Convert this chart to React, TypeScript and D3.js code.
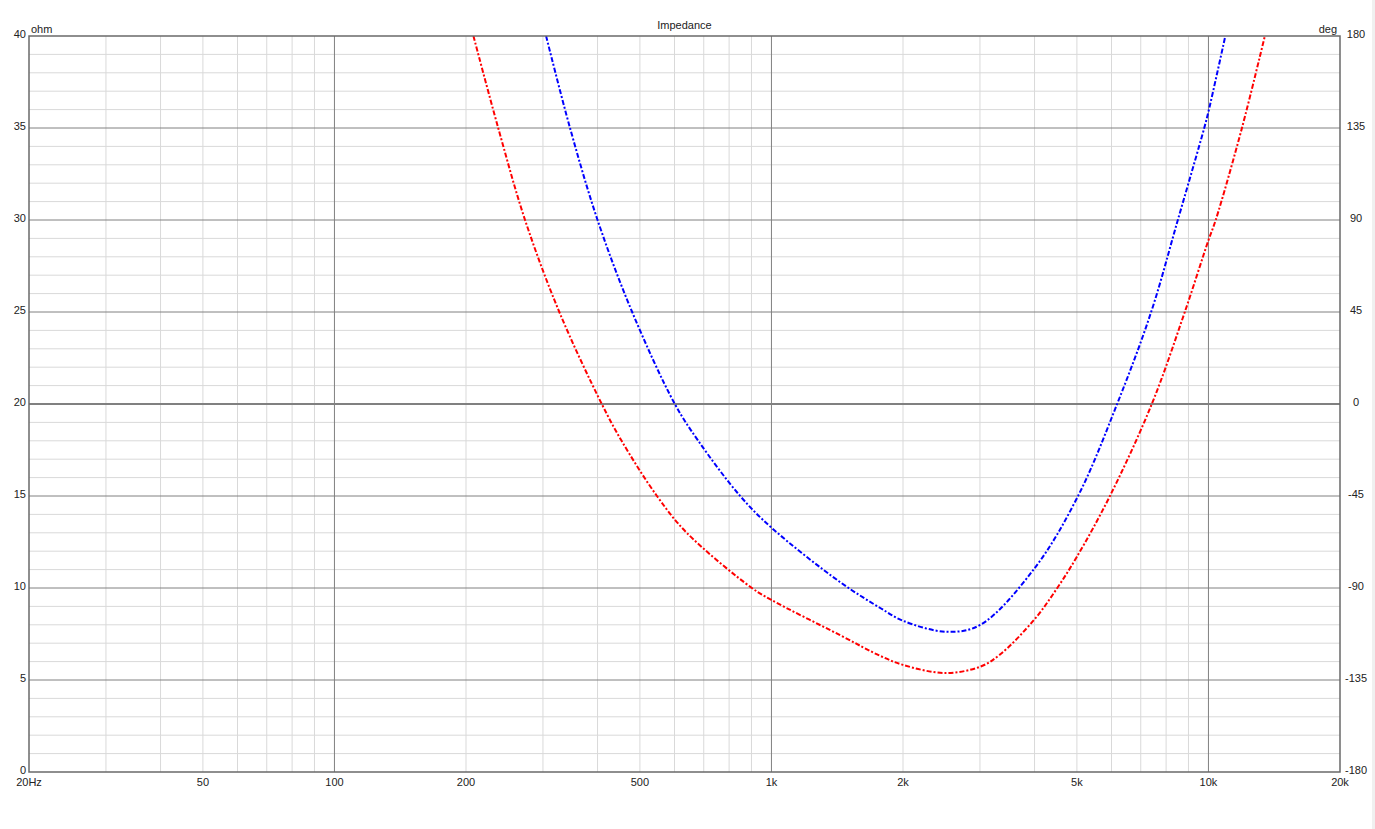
import * as d3 from 'd3';

// Impedance curves (frequency in Hz, magnitude in ohm)
const redFreq = [208, 237, 273, 327, 409, 454, 547, 640, 902, 1000, 1432, 1778, 2000, 2494, 3002, 3340, 4000, 4508, 5000, 5950, 7420, 8828, 10000, 10390, 11930, 13460];
const redOhm = [40, 35, 30, 25, 20, 18, 15, 13, 10, 9.35, 7.45, 6.3, 5.82, 5.38, 5.72, 6.4, 8.3, 10, 11.7, 15, 20, 25, 28.9, 30, 35, 40];

const blueFreq = [305, 346, 400, 480, 601, 680, 848, 1000, 1432, 1778, 2000, 2520, 3002, 4000, 5030, 6180, 7394, 8510, 9780, 10000, 10930];
const blueOhm = [40, 35, 30, 25, 20, 18, 15, 13.28, 10.34, 8.9, 8.22, 7.62, 7.99, 11.07, 15, 20, 25, 30, 35, 35.89, 40];

const freqTicks = [20, 50, 100, 200, 500, 1000, 2000, 5000, 10000, 20000];
const freqLabels = ['20Hz', '50', '100', '200', '500', '1k', '2k', '5k', '10k', '20k'];
const ohmTicks = [0, 5, 10, 15, 20, 25, 30, 35, 40];
const degTicks = [-180, -135, -90, -45, 0, 45, 90, 135, 180];

const W = 1375;
const H = 829;
const plot = { left: 29, right: 1340, top: 36, bottom: 772 };
const font = '"Liberation Sans", Arial, sans-serif';

export default function App() {
  const x = d3.scaleLog().domain([20, 20000]).range([plot.left, plot.right]);
  const y = d3.scaleLinear().domain([0, 40]).range([plot.bottom, plot.top]);
  const yDeg = d3.scaleLinear().domain([-180, 180]).range([plot.bottom, plot.top]);

  // minor grid positions: 1-9 times each decade
  const minorFreq: number[] = [];
  for (const dec of [10, 100, 1000, 10000]) {
    for (let m = 1; m <= 9; m++) {
      const f = dec * m;
      if (f > 20 && f < 20000 && f !== 100 && f !== 1000 && f !== 10000) minorFreq.push(f);
    }
  }
  const minorOhm = d3.range(1, 40).filter(v => v % 5 !== 0);

  const line = d3.line<[number, number]>()
    .x(d => x(d[0]))
    .y(d => y(d[1]))
    .curve(d3.curveCatmullRom.alpha(0.5));

  const red = line(redFreq.map((f, i) => [f, redOhm[i]] as [number, number])) || '';
  const blue = line(blueFreq.map((f, i) => [f, blueOhm[i]] as [number, number])) || '';

  return (
    <svg width={W} height={H} style={{ position: 'absolute', left: 0, top: 0, background: '#fff' }}>
      <rect x={1372} y={0} width={3} height={H} fill="#f0f0f0" />
      <defs>
        <clipPath id="plotClip">
          <rect x={plot.left} y={plot.top} width={plot.right - plot.left} height={plot.bottom - plot.top} />
        </clipPath>
      </defs>

      {/* minor grid */}
      {minorFreq.map(f => (
        <line key={'mf' + f} x1={x(f)} x2={x(f)} y1={plot.top} y2={plot.bottom} stroke="#d9d9d9" strokeWidth={1} />
      ))}
      {minorOhm.map(v => (
        <line key={'mo' + v} x1={plot.left} x2={plot.right} y1={y(v)} y2={y(v)} stroke="#d9d9d9" strokeWidth={1} />
      ))}

      {/* major grid */}
      {[100, 1000, 10000].map(f => (
        <line key={'Mf' + f} x1={x(f)} x2={x(f)} y1={plot.top} y2={plot.bottom} stroke="#808080" strokeWidth={1} />
      ))}
      {ohmTicks.filter(v => v > 0 && v < 40).map(v => (
        <line key={'Mo' + v} x1={plot.left} x2={plot.right} y1={y(v)} y2={y(v)} stroke="#808080" strokeWidth={v === 20 ? 2 : 1} />
      ))}

      {/* curves */}
      <g clipPath="url(#plotClip)" fill="none" strokeWidth={2} strokeDasharray="5,2,2,2">
        <path d={red} stroke="#ff0000" />
        <path d={blue} stroke="#0000ff" />
      </g>

      {/* frame */}
      <rect x={plot.left} y={plot.top} width={plot.right - plot.left} height={plot.bottom - plot.top} fill="none" stroke="#696969" strokeWidth={1.5} />

      {/* axis labels */}
      <g fontFamily={font} fontSize={11} fill="#222">
        {ohmTicks.map(v => (
          <text key={'lo' + v} x={26} y={y(v) - 1} textAnchor="end" dominantBaseline="middle">{v}</text>
        ))}
        {degTicks.map(v => (
          <text key={'rd' + v} x={1356} y={yDeg(v) - 1} textAnchor="middle" dominantBaseline="middle">{v}</text>
        ))}
        {freqTicks.map((f, i) => (
          <text key={'xf' + f} x={x(f)} y={786} textAnchor="middle">{freqLabels[i]}</text>
        ))}
        <text x={31} y={33}>ohm</text>
        <text x={1337} y={33} textAnchor="end">deg</text>
        <text x={(plot.left + plot.right) / 2} y={29} textAnchor="middle">Impedance</text>
      </g>
    </svg>
  );
}
